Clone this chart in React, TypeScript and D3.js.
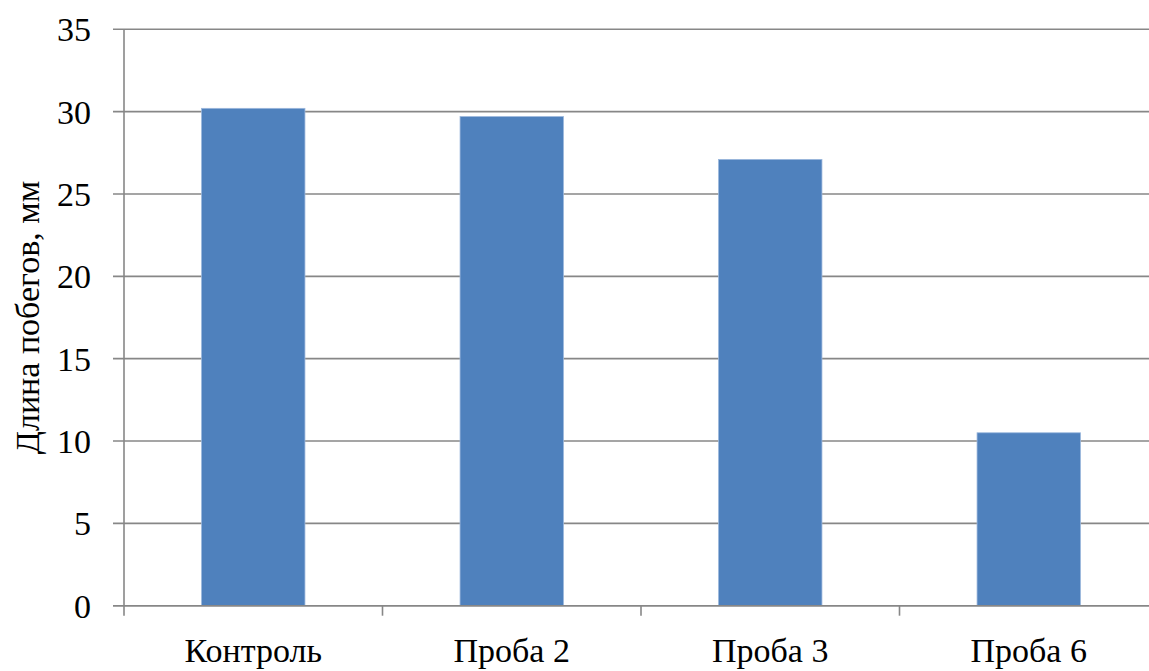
import React from "react";
import * as d3 from "d3";

// Shoot length per sample, mm
const categories: string[] = ["Контроль", "Проба 2", "Проба 3", "Проба 6"];
const values: number[] = [30.2, 29.7, 27.1, 10.5];
const yTicks: number[] = [0, 5, 10, 15, 20, 25, 30, 35];
const yTitle = "Длина побегов, мм";

const W = 1149;
const H = 671;
const left = 124;
const right = 1158;
const top = 29.3;
const bottom = 605.7;

const FONT = "Liberation Serif, DejaVu Serif, Times New Roman";
const GRID = "#878787";
const BAR = "#4F81BD";

export default function App() {
  const x = d3
    .scaleBand<string>()
    .domain(categories)
    .range([left, right])
    .paddingInner(0.6)
    .paddingOuter(0.3);
  const y = d3.scaleLinear().domain([0, 35]).range([bottom, top]);
  const catTicks = d3.range(categories.length + 1).map((i) => left + (i * (right - left)) / categories.length);
  const textStyle = { fontFamily: FONT, fontSize: 34 };

  return (
    <svg
      width={W}
      height={H}
      style={{ position: "absolute", left: 0, top: 0, background: "#fff" }}
    >
      {/* horizontal gridlines with outward ticks */}
      {yTicks.map((t) => (
        <g key={t}>
          <line x1={113} x2={right} y1={y(t)} y2={y(t)} stroke={GRID} strokeWidth={1.6} />
          <text x={91} y={y(t)} dy="0.35em" textAnchor="end" style={textStyle} fill="#000">
            {t}
          </text>
        </g>
      ))}
      {/* value axis */}
      <line x1={left} x2={left} y1={top} y2={bottom} stroke={GRID} strokeWidth={1.6} />
      {/* category ticks */}
      {catTicks.map((cx, i) => (
        <line key={i} x1={cx} x2={cx} y1={bottom} y2={bottom + 10} stroke={GRID} strokeWidth={1.6} />
      ))}
      {/* bars */}
      {categories.map((c, i) => (
        <rect
          key={c}
          x={x(c)}
          y={y(values[i])}
          width={x.bandwidth()}
          height={y(0) - y(values[i])}
          fill={BAR}
          stroke="#9bb7dc"
          strokeWidth={0.8}
        />
      ))}
      {/* baseline drawn over the bars */}
      <line x1={113} x2={right} y1={y(0)} y2={y(0)} stroke={GRID} strokeWidth={1.6} />
      {/* category labels */}
      {categories.map((c) => (
        <text
          key={c}
          x={(x(c) as number) + x.bandwidth() / 2}
          y={662}
          textAnchor="middle"
          style={textStyle}
          fill="#000"
        >
          {c}
        </text>
      ))}
      {/* axis title */}
      <text
        transform={`translate(39, ${(top + bottom) / 2}) rotate(-90)`}
        textAnchor="middle"
        style={textStyle}
        fill="#000"
      >
        {yTitle}
      </text>
    </svg>
  );
}
